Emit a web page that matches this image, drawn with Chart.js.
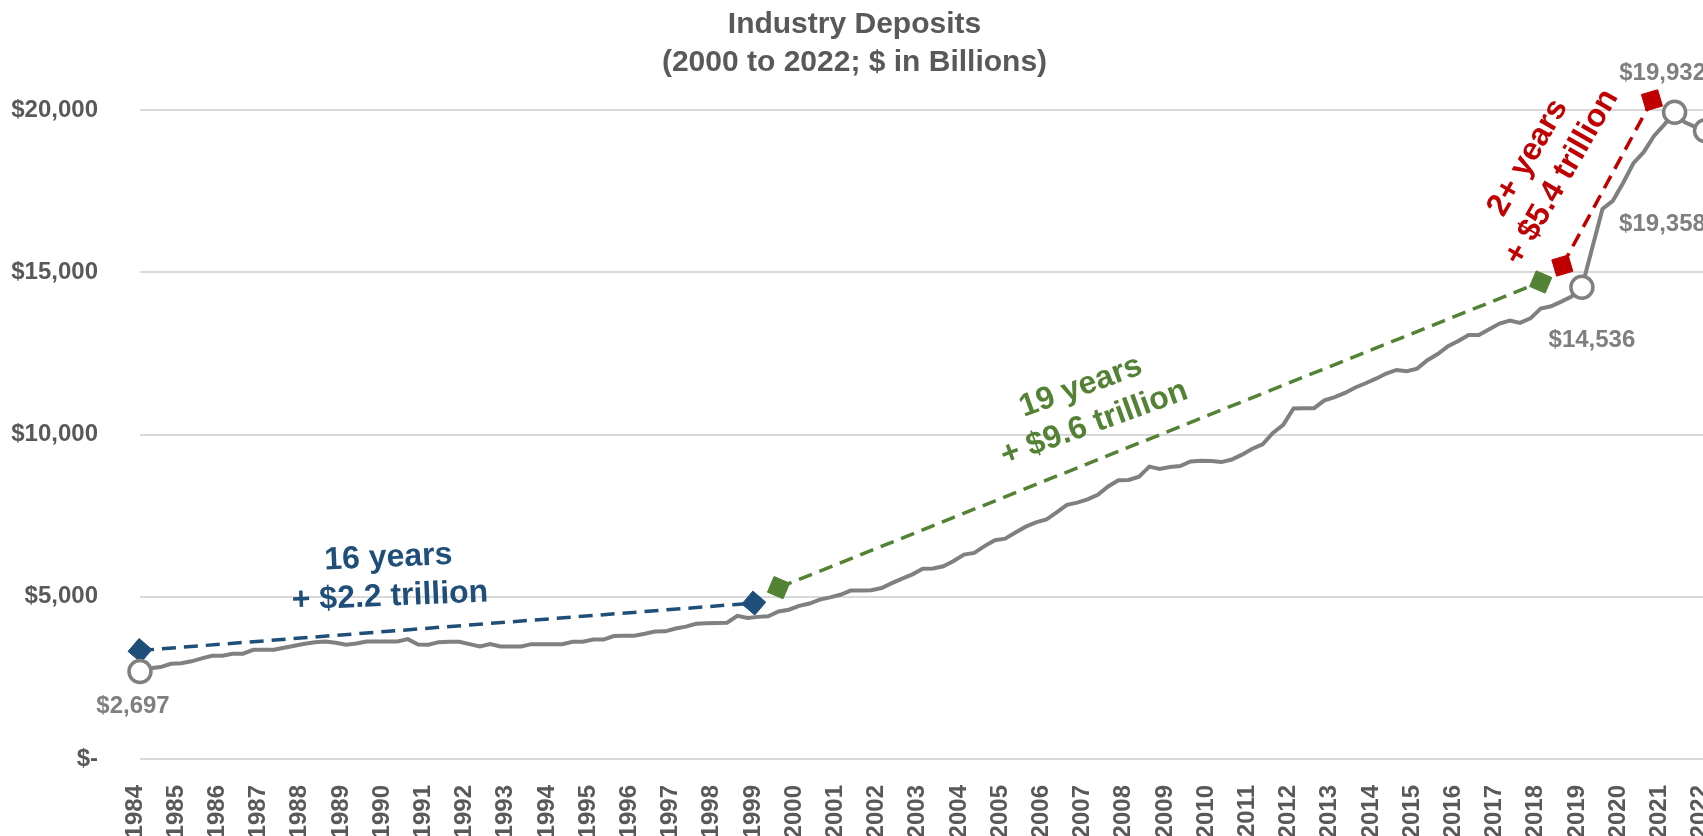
<!DOCTYPE html>
<html>
<head>
<meta charset="utf-8">
<title>Industry Deposits</title>
<script src="https://cdn.jsdelivr.net/npm/chart.js@4.4.1/dist/chart.umd.min.js"></script>
<style>
  html, body { margin: 0; padding: 0; background: #fff; overflow: hidden; }
  #wrap { position: absolute; left: 0; top: 0; width: 1720px; height: 846px; }
</style>
</head>
<body>
<div id="wrap"><canvas id="depositsChart"></canvas></div>
<script>
// year ticks, one per 4 quarters (first quarter on the axis is Q4 1984)
const yearLabels = ['1984', '1985', '1986', '1987', '1988', '1989', '1990', '1991', '1992', '1993',
  '1994', '1995', '1996', '1997', '1998', '1999', '2000', '2001', '2002', '2003', '2004', '2005',
  '2006', '2007', '2008', '2009', '2010', '2011', '2012', '2013', '2014', '2015', '2016', '2017',
  '2018', '2019', '2020', '2021', '2022'];

// quarterly industry deposits, $ billions
const deposits = [
  2697, 2800, 2834, 2935, 2950, 3010, 3100, 3180, 3185, 3240, 3245, 3365, 3365, 3365, 3430, 3490,
  3550, 3600, 3623, 3580, 3525, 3560, 3623, 3623, 3623, 3623, 3694, 3530, 3520, 3600, 3612, 3612,
  3540, 3470, 3540, 3470, 3470, 3470, 3540, 3540, 3540, 3540, 3612, 3612, 3680, 3680, 3790, 3800,
  3800, 3860, 3930, 3935, 4020, 4080, 4165, 4180, 4190, 4200, 4410, 4345, 4380, 4400, 4545, 4600,
  4720, 4790, 4910, 4980, 5060, 5190, 5195, 5200, 5270, 5420, 5560, 5690, 5860, 5870, 5940, 6100,
  6300, 6350, 6560, 6740, 6790, 6980, 7160, 7290, 7380, 7600, 7830, 7900, 8000, 8140, 8400, 8590,
  8600, 8700, 9010, 8940, 9000, 9030, 9170, 9190, 9180, 9150, 9230, 9380, 9560, 9700, 10050, 10300,
  10800, 10811, 10811, 11050, 11150, 11280, 11450, 11580, 11720, 11880, 11990, 11950, 12030, 12290, 12480, 12720,
  12880, 13069, 13069, 13245, 13420, 13510, 13440, 13580, 13880, 13950, 14095, 14250, 14536, 15750, 16950, 17200,
  17750, 18360, 18700, 19200, 19550, 19932, 19620, 19480, 19358
];

// quarters that get a ring marker and a value label
const callouts = [0, 140, 149, 152];
const calloutOffsets = [[-7, 35], [10, 53], [-12, -39], [-43, 94]];

// growth spans: [quarter, $ billions] at each end
const span16 = [[0, 3345], [59.6, 4805]];
const span19 = [[62, 5280], [136, 14700]];
const span2 = [[138.1, 15205], [146.8, 20300]];

const note16 = ['16 years', '+ $2.2 trillion'];
const note19 = ['19 years', '+ $9.6 trillion'];
const note2 = ['2+ years', '+ $5.4 trillion'];

const yTicks = [0, 5000, 10000, 15000, 20000];

const FONT = '"Liberation Sans", Arial, sans-serif';
const NAVY = '#1f4e79';
const GREEN = '#548235';
const RED = '#c00000';
const GREY_LINE = '#808080';

Chart.defaults.font.family = FONT;

const notes = [
  { lines: note16, at: [24.2, 5600], angle: -2.5, color: NAVY },
  { lines: note19, at: [92, 10904], angle: -20, color: GREEN },
  { lines: note2, at: [136.4, 18229], angle: -60, color: RED }
];

function spanDataset(span, color) {
  return {
    data: span.map(([x, y]) => ({ x, y })),
    borderColor: color,
    borderWidth: 3.5,
    borderDash: [14, 8],
    pointStyle: 'rectRot',
    pointRadius: 12,
    pointBackgroundColor: color,
    pointBorderColor: color,
    pointBorderWidth: 1,
    // turn the diamonds so they follow the dashed line
    pointRotation: (c) => {
      const xs = c.chart.scales.x, ys = c.chart.scales.y;
      if (!xs || !ys) return 0;
      const dx = xs.getPixelForValue(span[1][0]) - xs.getPixelForValue(span[0][0]);
      const dy = ys.getPixelForValue(span[1][1]) - ys.getPixelForValue(span[0][1]);
      return Math.atan2(dy, dx) * 180 / Math.PI;
    },
    clip: false,
    order: 1
  };
}

const labelPlugin = {
  id: 'labelPlugin',
  afterDatasetsDraw(chart) {
    const { ctx } = chart;
    const x = chart.scales.x, y = chart.scales.y;
    ctx.save();
    ctx.textAlign = 'center';
    ctx.textBaseline = 'middle';

    ctx.font = 'bold 24px ' + FONT;
    ctx.fillStyle = '#7f7f7f';
    callouts.forEach((q, i) => {
      const [dx, dy] = calloutOffsets[i];
      const txt = '$' + deposits[q].toLocaleString('en-US');
      ctx.fillText(txt, x.getPixelForValue(q) + dx, y.getPixelForValue(deposits[q]) + dy);
    });

    ctx.font = 'bold 32px ' + FONT;
    notes.forEach(n => {
      ctx.save();
      ctx.translate(x.getPixelForValue(n.at[0]), y.getPixelForValue(n.at[1]));
      ctx.rotate(n.angle * Math.PI / 180);
      ctx.fillStyle = n.color;
      n.lines.forEach((t, k) => {
        ctx.fillText(t, 0, (k - (n.lines.length - 1) / 2) * 39);
      });
      ctx.restore();
    });
    ctx.restore();
  }
};

new Chart(document.getElementById('depositsChart'), {
  type: 'line',
  data: {
    datasets: [
      {
        data: deposits.map((v, i) => ({ x: i, y: v })),
        borderColor: GREY_LINE,
        borderWidth: 4,
        tension: 0,
        pointRadius: (c) => callouts.includes(c.dataIndex) ? 11 : 0,
        pointBackgroundColor: '#ffffff',
        pointBorderColor: GREY_LINE,
        pointBorderWidth: 3.5,
        clip: false,
        order: 0
      },
      spanDataset(span16, NAVY),
      spanDataset(span19, GREEN),
      spanDataset(span2, RED)
    ]
  },
  options: {
    responsive: true,
    maintainAspectRatio: false,
    animation: false,
    events: [],
    layout: { padding: { left: 0, right: 11, top: 0, bottom: 0 } },
    plugins: {
      legend: { display: false },
      tooltip: { enabled: false },
      title: {
        display: true,
        text: ['Industry Deposits', '(2000 to 2022; $ in Billions)'],
        color: '#595959',
        font: { size: 30, weight: 'bold', lineHeight: 1.25 },
        padding: { top: 6, bottom: 29 }
      }
    },
    scales: {
      x: {
        type: 'linear',
        min: 0,
        max: 152,
        grid: { display: false },
        border: { display: false },
        afterBuildTicks: (scale) => {
          scale.ticks = yearLabels.map((_, i) => ({ value: i * 4 }));
        },
        afterFit: (scale) => {
          scale.height = 87;
          scale.paddingLeft = 0;
          scale.paddingRight = 0;
        },
        ticks: {
          autoSkip: false,
          minRotation: 90,
          maxRotation: 90,
          padding: 18,
          labelOffset: -5,
          color: '#595959',
          font: { size: 24, weight: 'bold' },
          callback: (v) => yearLabels[v / 4]
        }
      },
      y: {
        min: 0,
        max: 20000,
        border: { display: false },
        grid: { color: '#d9d9d9', lineWidth: 2, drawTicks: false },
        afterBuildTicks: (scale) => {
          scale.ticks = yTicks.map(v => ({ value: v }));
        },
        afterFit: (scale) => { scale.width = 140; },
        ticks: {
          padding: 42,
          color: '#595959',
          font: { size: 24, weight: 'bold' },
          callback: (v) => v === 0 ? '$-' : '$' + v.toLocaleString('en-US')
        }
      }
    }
  },
  plugins: [labelPlugin]
});
</script>
</body>
</html>
